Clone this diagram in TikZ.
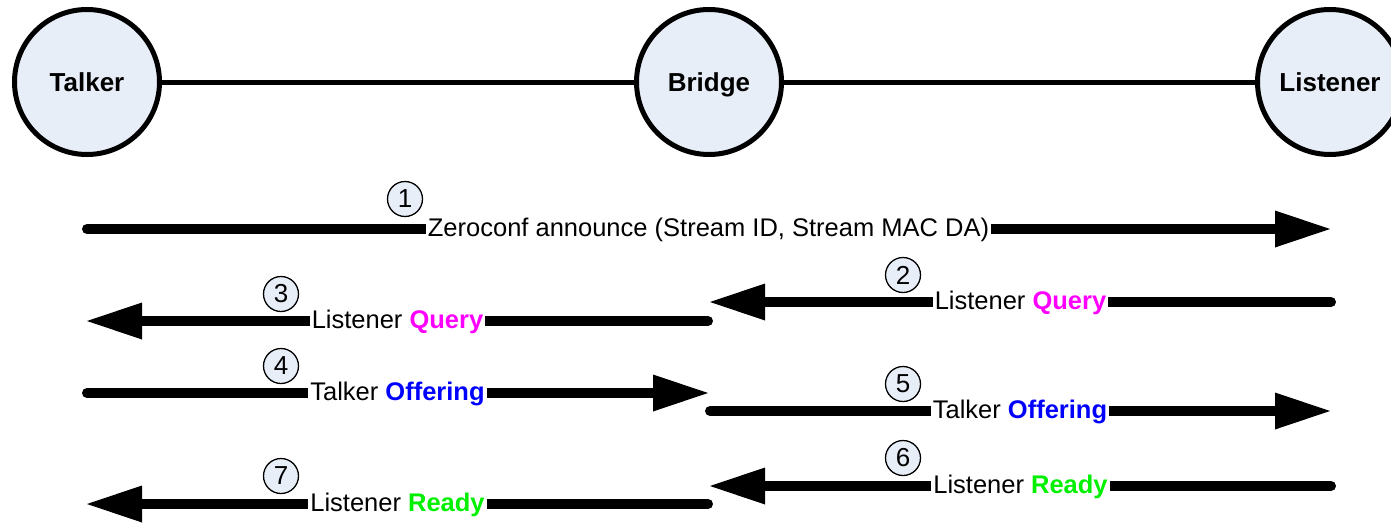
\documentclass[tikz,border=0pt]{standalone}
\usepackage{fontspec}
\setmainfont{Liberation Sans}
\usetikzlibrary{arrows.meta}
\definecolor{nodefill}{RGB}{232,238,248}
\definecolor{qcol}{RGB}{255,0,255}
\definecolor{ocol}{RGB}{0,0,255}
\definecolor{rcol}{RGB}{0,240,0}
\begin{document}
\begin{tikzpicture}[x=1pt,y=-1pt,
  station/.style={circle,draw,line width=5pt,fill=nodefill,minimum size=145pt,inner sep=0pt,
    text height=18pt,text depth=0pt,font=\fontsize{26}{30}\selectfont\bfseries},
  link/.style={line width=5pt},
  msg/.style={line width=10pt,line cap=round,-{Triangle[length=55pt,width=37pt,line width=0pt]}},
  lbl/.style={fill=white,inner sep=2pt,text height=19pt,text depth=5pt,font=\fontsize{25.5}{30}\selectfont},
  num/.style={circle,draw,line width=1.3pt,fill=nodefill,minimum size=35pt,inner sep=0pt,font=\fontsize{26}{30}\selectfont}]
\clip (0,0) rectangle (1391,522);
\fill[white] (0,0) rectangle (1391,522);

\node[station] (talker) at (87,82) {Talker};
\node[station] (bridge) at (709,82) {Bridge};
\node[station] (listener) at (1330,82) {Listener};
\draw[link] (talker) -- (bridge);
\draw[link] (bridge) -- (listener);

\coordinate (a1s) at (87,229);   \coordinate (a1e) at (1330,229);
\coordinate (a2s) at (1331,302); \coordinate (a2e) at (710,302);
\coordinate (a3s) at (708,321);  \coordinate (a3e) at (87,321);
\coordinate (a4s) at (87,393);   \coordinate (a4e) at (708,393);
\coordinate (a5s) at (710,411);  \coordinate (a5e) at (1330,411);
\coordinate (a6s) at (1331,486); \coordinate (a6e) at (710,486);
\coordinate (a7s) at (708,504);  \coordinate (a7e) at (87,504);

\draw[msg] (a1s) -- node[lbl] (l1) {Zeroconf announce (Stream ID, Stream MAC DA)} (a1e);
\draw[msg] (a2s) -- node[lbl] (l2) {Listener \textcolor{qcol}{\bfseries Query}} (a2e);
\draw[msg] (a3s) -- node[lbl] (l3) {Listener \textcolor{qcol}{\bfseries Query}} (a3e);
\draw[msg] (a4s) -- node[lbl] (l4) {Talker \textcolor{ocol}{\bfseries Offering}} (a4e);
\draw[msg] (a5s) -- node[lbl] (l5) {Talker \textcolor{ocol}{\bfseries Offering}} (a5e);
\draw[msg] (a6s) -- node[lbl] (l6) {Listener \textcolor{rcol}{\bfseries Ready}} (a6e);
\draw[msg] (a7s) -- node[lbl] (l7) {Listener \textcolor{rcol}{\bfseries Ready}} (a7e);

\node[num] (n1) at (405,199) {1};
\node[num] (n2) at (903,275) {2};
\node[num] (n3) at (281,294) {3};
\node[num] (n4) at (281,366) {4};
\node[num] (n5) at (903,384) {5};
\node[num] (n6) at (903,458) {6};
\node[num] (n7) at (281,476) {7};
\end{tikzpicture}
\end{document}
